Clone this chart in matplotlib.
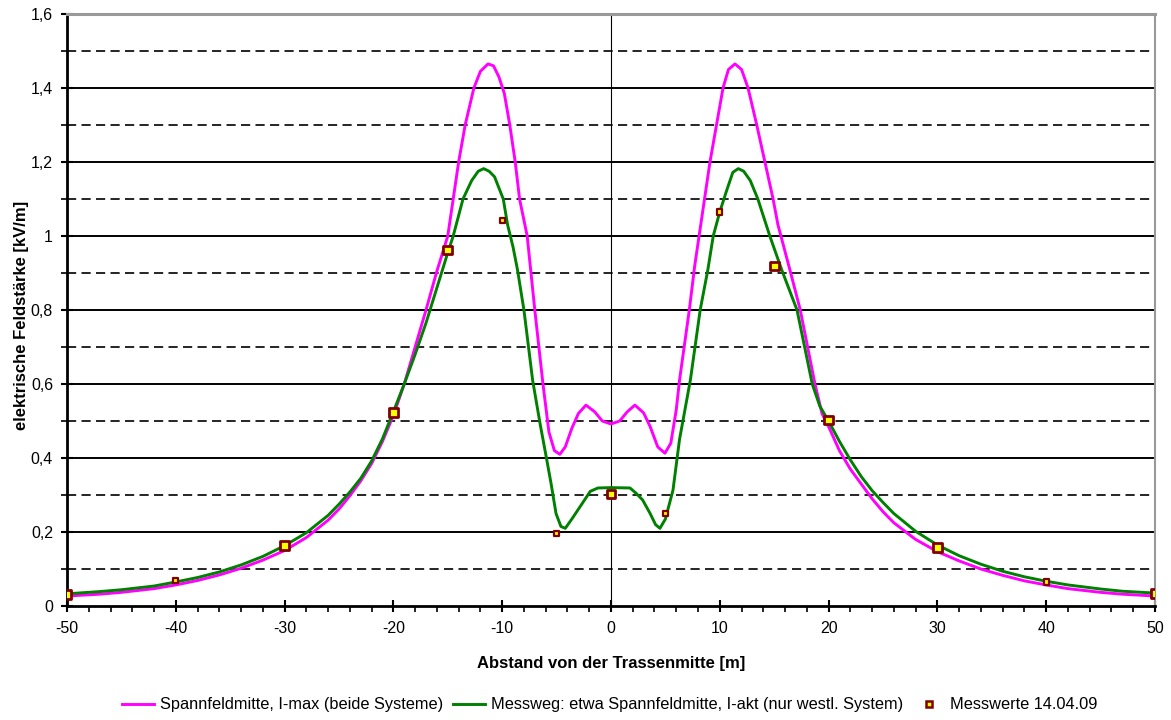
import matplotlib
matplotlib.use("Agg")
import matplotlib.pyplot as plt
from matplotlib.lines import Line2D
from matplotlib.ticker import MultipleLocator, FuncFormatter

plt.rcParams['font.family'] = ['Liberation Sans', 'DejaVu Sans']

# Spannfeldmitte, I-max (beide Systeme)
mag_x = [-50, -47, -45, -42, -40, -38, -36, -34, -32, -30, -28, -26, -25, -24, -23,
         -22, -21, -20, -19, -18, -17, -16, -15, -14.5, -14, -13.4, -12.6, -12, -11.3,
         -10.8, -10.3, -9.8, -9.3, -8.8, -8.4, -7.7, -7.0, -6.25, -5.7, -5.2, -4.7,
         -4.2, -3.6, -3.0, -2.3, -1.5, -0.8, 0, 0.8, 1.5, 2.2, 3.0, 3.6, 4.3, 4.96,
         5.5, 6.0, 6.3, 7.2, 7.7, 8.1, 8.6, 9.1, 9.7, 10.3, 10.8, 11.4, 12.0, 12.6,
         13.4, 14.15, 14.9, 15.35, 16.45, 17.4, 18.75, 19.4, 20, 21, 22, 23, 24, 25,
         26, 28, 30, 32, 34, 36, 38, 40, 42, 45, 47, 50]
mag_y = [0.027, 0.032, 0.037, 0.047, 0.057, 0.069, 0.084, 0.102, 0.124, 0.150, 0.185,
         0.232, 0.262, 0.298, 0.338, 0.385, 0.445, 0.515, 0.600, 0.700, 0.800, 0.905,
         1.000, 1.100, 1.200, 1.300, 1.400, 1.445, 1.465, 1.460, 1.430, 1.385, 1.300,
         1.200, 1.100, 1.000, 0.800, 0.600, 0.470, 0.420, 0.410, 0.430, 0.480, 0.520,
         0.543, 0.525, 0.500, 0.492, 0.500, 0.525, 0.543, 0.522, 0.485, 0.430, 0.413,
         0.440, 0.530, 0.610, 0.800, 0.920, 1.000, 1.100, 1.200, 1.300, 1.400, 1.450,
         1.465, 1.450, 1.400, 1.300, 1.200, 1.100, 1.030, 0.908, 0.800, 0.600, 0.520,
         0.485, 0.420, 0.370, 0.330, 0.290, 0.255, 0.225, 0.180, 0.147, 0.122, 0.100,
         0.083, 0.068, 0.057, 0.047, 0.037, 0.032, 0.027]

# Messweg: etwa Spannfeldmitte, I-akt (nur westl. System)
grn_x = [-50, -47, -45, -42, -40, -38, -36, -34, -32, -30, -28, -26, -25, -24, -23,
         -22, -21, -20, -19, -18, -17, -16, -15, -14.5, -13.6, -12.8, -12.2, -11.7,
         -11.2, -10.7, -9.9, -9.5, -9.0, -8.6, -8.0, -7.2, -6.5, -5.9, -5.5, -5.05,
         -4.6, -4.2, -3.6, -2.85, -1.9, -1.2, 0, 1.75, 2.3, 2.9, 3.6, 4.1, 4.5, 5.0,
         5.7, 6.3, 7.3, 8.2, 8.9, 9.4, 10.0, 10.6, 11.2, 11.7, 12.2, 12.8, 13.5, 14.6,
         15.7, 17.1, 18.5, 19.2, 20, 21, 22, 23, 24, 25, 26, 28, 30, 32, 34, 36, 38,
         40, 42, 45, 47, 50]
grn_y = [0.033, 0.039, 0.044, 0.054, 0.065, 0.077, 0.092, 0.111, 0.134, 0.163, 0.198,
         0.245, 0.275, 0.308, 0.345, 0.392, 0.452, 0.525, 0.600, 0.680, 0.765, 0.860,
         0.955, 1.000, 1.100, 1.150, 1.175, 1.182, 1.175, 1.160, 1.100, 1.030, 0.970,
         0.910, 0.800, 0.610, 0.490, 0.395, 0.330, 0.250, 0.215, 0.210, 0.235, 0.268,
         0.310, 0.319, 0.320, 0.319, 0.305, 0.287, 0.250, 0.220, 0.210, 0.235, 0.313,
         0.450, 0.611, 0.800, 0.908, 1.000, 1.065, 1.120, 1.172, 1.182, 1.175, 1.150,
         1.100, 1.000, 0.908, 0.800, 0.600, 0.540, 0.500, 0.445, 0.395, 0.350, 0.312,
         0.280, 0.250, 0.202, 0.165, 0.136, 0.113, 0.094, 0.079, 0.067, 0.057, 0.046,
         0.040, 0.035]

# Messwerte 14.04.09
mess_x = [-50, -40, -30, -20, -15, -10, -5, 0, 5, 10, 15, 20, 30, 40, 50]
mess_y = [0.032, 0.068, 0.163, 0.524, 0.962, 1.042, 0.195, 0.303, 0.251, 1.065,
          0.919, 0.503, 0.158, 0.065, 0.033]
mess_big = [True, False, True, True, True, False, False, True, False, False,
            True, True, True, False, True]

fig = plt.figure(figsize=(11.71, 7.2), dpi=100)
ax = fig.add_axes([0.0572, 0.1583, 0.9291, 0.8223])

# grid lines
for v in [0.2, 0.4, 0.6, 0.8, 1.0, 1.2, 1.4]:
    ax.axhline(v, color='black', lw=1.4, zorder=1)
for v in [0.1, 0.3, 0.5, 0.7, 0.9, 1.1, 1.3, 1.5]:
    ax.axhline(v, color='black', lw=1.2, ls=(0, (5.5, 3.2)), zorder=1)
ax.axvline(0, color='black', lw=0.8, zorder=1)

ax.plot(mag_x, mag_y, color='#FF00FF', lw=2.1, zorder=3)
ax.plot(grn_x, grn_y, color='#008000', lw=2.1, zorder=4)

sizes = [40 if b else 14 for b in mess_big]
widths = [2.0 if b else 1.6 for b in mess_big]
ax.scatter(mess_x, mess_y, s=sizes, marker='s', facecolor='#FFFF00',
           edgecolor='#800000', linewidths=widths, zorder=5)

ax.set_xlim(-50, 50)
ax.set_ylim(0, 1.6)
ax.xaxis.set_major_locator(MultipleLocator(10))
ax.xaxis.set_minor_locator(MultipleLocator(2))
ax.yaxis.set_major_locator(MultipleLocator(0.2))
ax.yaxis.set_minor_locator(MultipleLocator(0.1))
ax.xaxis.set_major_formatter(FuncFormatter(lambda v, p: '%d' % round(v)))
ax.yaxis.set_major_formatter(
    FuncFormatter(lambda v, p: ('%g' % round(v, 1)).replace('.', ',')))
ax.tick_params(which='major', direction='inout', length=8, width=1.5,
               labelsize=11.5, pad=6)
ax.tick_params(which='minor', direction='out', length=4, width=1.2)
ax.tick_params(axis='x', which='major', pad=7)

for s in ['left', 'bottom']:
    ax.spines[s].set_color('black')
    ax.spines[s].set_linewidth(2)
ax.spines['top'].set_color('#999999')
ax.spines['top'].set_linewidth(2.2)
ax.spines['right'].set_color('#999999')
ax.spines['right'].set_linewidth(1.5)

fig.text(0.018, 0.5625, 'elektrische Feldstärke [kV/m]', rotation=90,
         ha='center', va='center', fontsize=12, fontweight='bold')
fig.text(0.522, 0.079, 'Abstand von der Trassenmitte [m]',
         ha='center', va='center', fontsize=12, fontweight='bold')

handles = [
    Line2D([], [], color='#FF00FF', lw=2.1),
    Line2D([], [], color='#008000', lw=2.1),
    Line2D([], [], ls='none', marker='s', markersize=4.5, markerfacecolor='#FFFF00',
           markeredgecolor='#800000', markeredgewidth=1.8),
]
labels = ['Spannfeldmitte, I-max (beide Systeme)',
          'Messweg: etwa Spannfeldmitte, I-akt (nur westl. System)',
          'Messwerte 14.04.09']
fig.legend(handles, labels, loc='center', bbox_to_anchor=(0.521, 0.021), ncol=3,
           frameon=False, fontsize=11.8, handlelength=1.95, columnspacing=0.6,
           handletextpad=0.35)

fig.savefig('out.png', dpi=100)
